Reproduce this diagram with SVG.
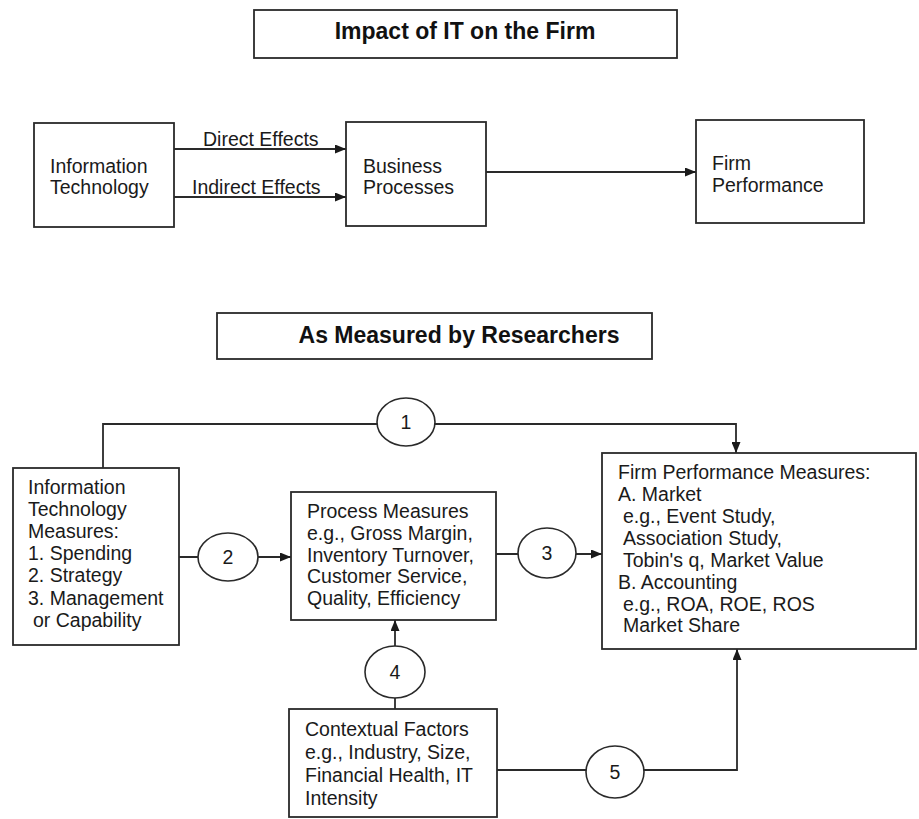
<svg xmlns="http://www.w3.org/2000/svg" width="919" height="819" viewBox="0 0 919 819">
  <style>
    .box { fill: #fff; stroke: #2a2a2a; stroke-width: 1.8; }
    .bubble { fill: #fff; stroke: #2a2a2a; stroke-width: 1.6; }
    .wire { fill: none; stroke: #2a2a2a; stroke-width: 1.8; }
    .t { font-family: "Liberation Sans", Arial, sans-serif; font-size: 19.5px; fill: #1a1a1a; }
    .h { font-family: "Liberation Sans", Arial, sans-serif; font-size: 23px; font-weight: bold; fill: #111; text-anchor: middle; }
    .n { font-family: "Liberation Sans", Arial, sans-serif; font-size: 19.5px; fill: #1a1a1a; text-anchor: middle; }
  </style>
  <defs>
    <marker id="arrow" markerUnits="userSpaceOnUse" markerWidth="11" markerHeight="9" refX="11" refY="4.5" orient="auto">
      <path d="M0,0 L11,4.5 L0,9 z" fill="#1a1a1a"/>
    </marker>
  </defs>

  <rect width="919" height="819" fill="#fff"/>

  <!-- connectors -->
  <g id="connectors">
    <path class="wire" d="M174,149 H346" marker-end="url(#arrow)"/>
    <path class="wire" d="M174,197 H346" marker-end="url(#arrow)"/>
    <path class="wire" d="M486,172 H696" marker-end="url(#arrow)"/>
    <path class="wire" d="M103,468 V424 H736 V453" marker-end="url(#arrow)"/>
    <path class="wire" d="M179,557 H291" marker-end="url(#arrow)"/>
    <path class="wire" d="M496,554 H602" marker-end="url(#arrow)"/>
    <path class="wire" d="M395,709 V620" marker-end="url(#arrow)"/>
    <path class="wire" d="M497,770 H737 V649" marker-end="url(#arrow)"/>
  </g>

  <!-- edge labels, top section -->
  <g id="edge-labels">
    <text class="t" x="203" y="146">Direct Effects</text>
    <text class="t" x="192" y="194">Indirect Effects</text>
  </g>

  <!-- heading: upper section -->
  <g id="title-impact">
    <rect class="box" x="254" y="10" width="423" height="48"/>
    <text class="h" x="465" y="39">Impact of IT on the Firm</text>
  </g>

  <g id="node-it">
    <rect class="box" x="34" y="123" width="140" height="104"/>
    <text class="t" x="50" y="173">Information</text>
    <text class="t" x="50" y="194">Technology</text>
  </g>

  <g id="node-bp">
    <rect class="box" x="346" y="122" width="140" height="104"/>
    <text class="t" x="363" y="173">Business</text>
    <text class="t" x="363" y="194">Processes</text>
  </g>

  <g id="node-fp">
    <rect class="box" x="696" y="120" width="168" height="103"/>
    <text class="t" x="712" y="170">Firm</text>
    <text class="t" x="712" y="192">Performance</text>
  </g>

  <!-- heading: lower section -->
  <g id="title-measured">
    <rect class="box" x="217" y="313" width="435" height="46"/>
    <text class="h" x="459" y="343">As Measured by Researchers</text>
  </g>

  <g id="node-itm">
    <rect class="box" x="13" y="468" width="166" height="177"/>
    <text class="t" x="28" y="494">Information</text>
    <text class="t" x="28" y="516">Technology</text>
    <text class="t" x="28" y="538">Measures:</text>
    <text class="t" x="28" y="560">1. Spending</text>
    <text class="t" x="28" y="582">2. Strategy</text>
    <text class="t" x="28" y="605">3. Management</text>
    <text class="t" x="33" y="627">or Capability</text>
  </g>

  <g id="node-pm">
    <rect class="box" x="291" y="492" width="205" height="128"/>
    <text class="t" x="307" y="518">Process Measures</text>
    <text class="t" x="307" y="540">e.g., Gross Margin,</text>
    <text class="t" x="307" y="562">Inventory Turnover,</text>
    <text class="t" x="307" y="583">Customer Service,</text>
    <text class="t" x="307" y="605">Quality, Efficiency</text>
  </g>

  <g id="node-fpm">
    <rect class="box" x="602" y="453" width="314" height="196"/>
    <text class="t" x="618" y="479">Firm Performance Measures:</text>
    <text class="t" x="618" y="501">A. Market</text>
    <text class="t" x="623" y="523">e.g., Event Study,</text>
    <text class="t" x="623" y="545">Association Study,</text>
    <text class="t" x="623" y="567">Tobin's q, Market Value</text>
    <text class="t" x="618" y="589">B. Accounting</text>
    <text class="t" x="623" y="611">e.g., ROA, ROE, ROS</text>
    <text class="t" x="623" y="632">Market Share</text>
  </g>

  <g id="node-cf">
    <rect class="box" x="289" y="709" width="208" height="108"/>
    <text class="t" x="305" y="736">Contextual Factors</text>
    <text class="t" x="305" y="759">e.g., Industry, Size,</text>
    <text class="t" x="305" y="782">Financial Health, IT</text>
    <text class="t" x="305" y="805">Intensity</text>
  </g>

  <!-- numbered path markers -->
  <g id="path-1">
    <ellipse class="bubble" cx="406" cy="422" rx="29" ry="24"/>
    <text class="n" x="406" y="429">1</text>
  </g>
  <g id="path-2">
    <ellipse class="bubble" cx="228" cy="557" rx="30" ry="24"/>
    <text class="n" x="228" y="564">2</text>
  </g>
  <g id="path-3">
    <ellipse class="bubble" cx="547" cy="553" rx="29" ry="25"/>
    <text class="n" x="547" y="560">3</text>
  </g>
  <g id="path-4">
    <ellipse class="bubble" cx="395" cy="672" rx="30" ry="26"/>
    <text class="n" x="395" y="679">4</text>
  </g>
  <g id="path-5">
    <ellipse class="bubble" cx="615" cy="772" rx="29" ry="26"/>
    <text class="n" x="615" y="779">5</text>
  </g>
</svg>
